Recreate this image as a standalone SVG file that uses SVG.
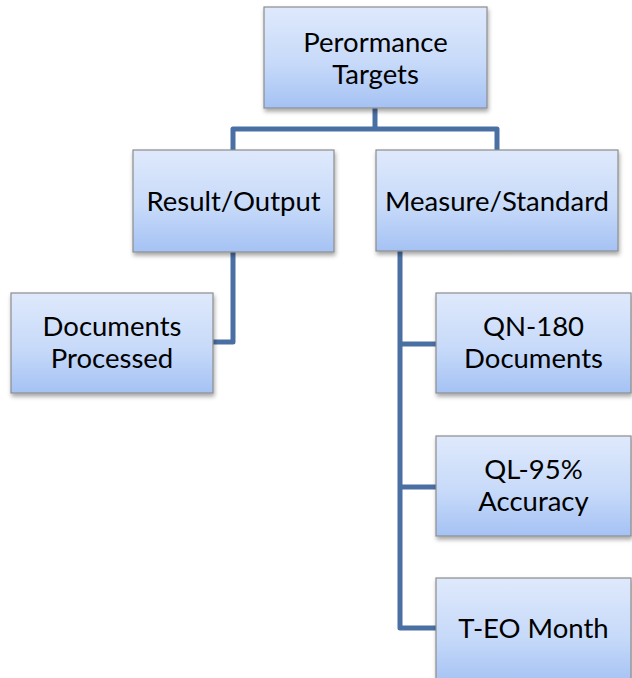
<svg xmlns="http://www.w3.org/2000/svg" width="632" height="678" viewBox="0 0 632 678">
  <defs>
    <linearGradient id="boxFill" x1="0" y1="0" x2="0" y2="1">
      <stop offset="0" stop-color="#dfe9fc"/>
      <stop offset="0.55" stop-color="#c7daf9"/>
      <stop offset="1" stop-color="#a5c2f4"/>
    </linearGradient>
    <filter id="shadow" x="-10%" y="-10%" width="125%" height="130%">
      <feDropShadow dx="1" dy="3" stdDeviation="2" flood-color="#000" flood-opacity="0.35"/>
    </filter>
  </defs>
  <style>
    .box { fill: url(#boxFill); stroke: #8c8c8c; stroke-width: 1.2; filter: url(#shadow); }
    .label { font-family: Lato, "Liberation Sans", sans-serif; font-size: 27.5px; fill: #000; text-anchor: middle; }
    .link { fill: none; stroke: #4a6fa3; stroke-width: 5; stroke-linejoin: round; }
  </style>
  <rect width="632" height="678" fill="#ffffff"/>

  <!-- connectors -->
  <g id="connectors">
    <path class="link" d="M375,108 V129"/>
    <path class="link" d="M233,150 V129 H497 V150"/>
    <path class="link" d="M233,252 V342 H213"/>
    <path class="link" d="M400,251 V628 H436"/>
    <path class="link" d="M400,344 H436"/>
    <path class="link" d="M400,487 H436"/>
  </g>

  <g id="node-targets">
    <rect class="box" x="264" y="7" width="223" height="101"/>
    <text class="label" x="375.5" y="52">Perormance</text>
    <text class="label" x="375.5" y="84">Targets</text>
  </g>

  <g id="node-result">
    <rect class="box" x="133" y="150" width="201" height="102"/>
    <text class="label" x="233.5" y="211">Result/Output</text>
  </g>

  <g id="node-measure">
    <rect class="box" x="376" y="150" width="242" height="101"/>
    <text class="label" x="497" y="211">Measure/Standard</text>
  </g>

  <g id="node-documents">
    <rect class="box" x="11" y="293" width="202" height="100"/>
    <text class="label" x="112" y="336">Documents</text>
    <text class="label" x="112" y="368">Processed</text>
  </g>

  <g id="node-qn">
    <rect class="box" x="436" y="293" width="195" height="100"/>
    <text class="label" x="533.5" y="336">QN-180</text>
    <text class="label" x="533.5" y="368">Documents</text>
  </g>

  <g id="node-ql">
    <rect class="box" x="436" y="436" width="195" height="100"/>
    <text class="label" x="533.5" y="479">QL-95%</text>
    <text class="label" x="533.5" y="511">Accuracy</text>
  </g>

  <g id="node-teo">
    <rect class="box" x="436" y="578" width="195" height="106"/>
    <text class="label" x="533.5" y="638">T-EO Month</text>
  </g>
</svg>
